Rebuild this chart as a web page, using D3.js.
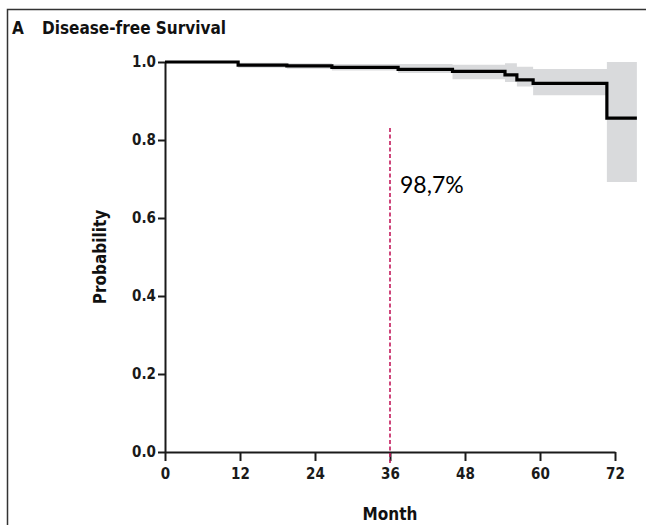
<!DOCTYPE html>
<html>
<head>
<meta charset="utf-8">
<script src="https://cdn.jsdelivr.net/npm/d3@7"></script>
<style>
  body { margin: 0; background: #fff; }
  svg { display: block; }
  .cond { font-family: "Liberation Sans Narrow", "DejaVu Sans Condensed", "Roboto", sans-serif; font-weight: bold; }
</style>
</head>
<body>
<div id="chart"></div>
<script>
// step times (months) and Kaplan-Meier estimate with 95% CI
const months = [0, 11.7, 19.5, 26.7, 37.3, 46, 54.4, 56.3, 58.9, 70.7, 75.5];
const survival = [1.0, 0.992, 0.990, 0.986, 0.981, 0.976, 0.967, 0.954, 0.945, 0.856, 0.856];
const upperCI = [1.0, 0.998, 0.997, 0.995, 0.995, 0.993, 0.997, 0.988, 0.982, 1.0, 1.0];
const lowerCI = [0.997, 0.985, 0.983, 0.978, 0.972, 0.956, 0.949, 0.937, 0.915, 0.692, 0.692];
const xTicks = [0, 12, 24, 36, 48, 60, 72];
const yTicks = [0, 0.2, 0.4, 0.6, 0.8, 1.0];
const markMonth = 36;
const markLabel = '98,7%';

const width = 646, height = 525;
const svg = d3.select('#chart').append('svg').attr('width', width).attr('height', height);

// frame
svg.append('rect')
  .attr('x', 7.5).attr('y', 9.5)
  .attr('width', width + 10).attr('height', height + 10)
  .attr('fill', 'none').attr('stroke', '#333').attr('stroke-width', 1.5);

const x = d3.scaleLinear().domain([0, 72]).range([165, 615]);
const y = d3.scaleLinear().domain([0, 1]).range([452, 62]);

const rows = months.map((m, i) => ({ m: m, s: survival[i], lo: lowerCI[i], hi: upperCI[i] }));

// confidence band
svg.append('path')
  .datum(rows)
  .attr('fill', '#d9dadc')
  .attr('d', d3.area().curve(d3.curveStepAfter)
    .x(d => x(d.m)).y0(d => y(d.lo)).y1(d => y(d.hi)));

// axes
const yAxis = svg.append('g')
  .attr('transform', 'translate(165,0)')
  .call(d3.axisLeft(y).tickValues(yTicks).tickFormat(d3.format('.1f')).tickSize(7).tickSizeOuter(0).tickPadding(2));

const xAxis = svg.append('g')
  .attr('transform', 'translate(0,452)')
  .call(d3.axisBottom(x).tickValues(xTicks).tickSize(9).tickSizeOuter(0).tickPadding(7));

[yAxis, xAxis].forEach(g => {
  g.selectAll('path, line').attr('stroke', '#1a1a1a').attr('stroke-width', 2);
  g.selectAll('text').attr('fill', '#1a1a1a').style('font-size', '15px')
    .style('font-family', '"Liberation Sans Narrow", "DejaVu Sans Condensed", sans-serif')
    .style('font-weight', 'bold');
});

// survival curve
svg.append('path')
  .datum(rows)
  .attr('fill', 'none')
  .attr('stroke', '#000')
  .attr('stroke-width', 3.2)
  .attr('d', d3.line().curve(d3.curveStepAfter).x(d => x(d.m)).y(d => y(d.s)));

// 36 month marker
svg.append('line')
  .attr('x1', x(markMonth)).attr('x2', x(markMonth))
  .attr('y1', 128).attr('y2', 463)
  .attr('stroke', '#c2185b').attr('stroke-width', 1.6)
  .attr('stroke-dasharray', '4,2.5');

svg.append('text')
  .attr('x', x(markMonth) + 10).attr('y', 193)
  .attr('font-family', 'Lato, "Open Sans", sans-serif')
  .attr('font-weight', 400)
  .attr('font-size', 23)
  .attr('fill', '#000')
  .text(markLabel);

// title
svg.append('text').attr('class', 'cond')
  .attr('x', 12).attr('y', 34).attr('font-size', 17).attr('fill', '#111')
  .text('A');
svg.append('text').attr('class', 'cond')
  .attr('x', 42).attr('y', 34).attr('font-size', 17).attr('fill', '#111')
  .text('Disease-free Survival');

// axis titles
svg.append('text').attr('class', 'cond')
  .attr('transform', 'translate(106,257) rotate(-90)')
  .attr('text-anchor', 'middle').attr('font-size', 17).attr('fill', '#111')
  .text('Probability');
svg.append('text').attr('class', 'cond')
  .attr('x', x(36)).attr('y', 520)
  .attr('text-anchor', 'middle').attr('font-size', 17).attr('fill', '#111')
  .text('Month');
</script>
</body>
</html>
